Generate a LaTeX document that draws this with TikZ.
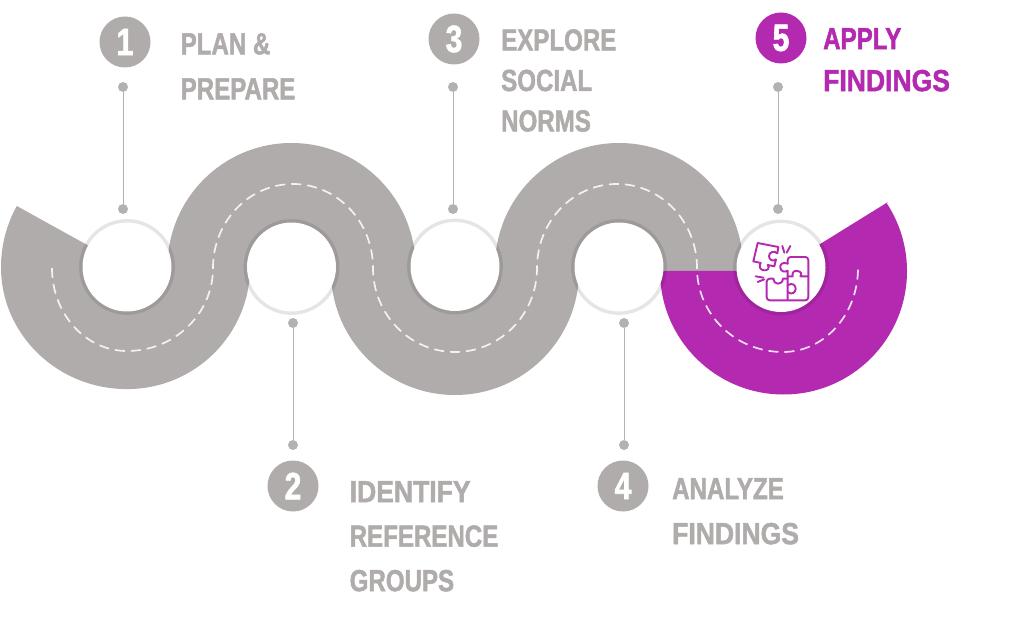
\documentclass[tikz,border=0pt]{standalone}
\usepackage{fontspec}
\setmainfont{Liberation Sans}[BoldFeatures={FakeStretch=0.79,FakeBold=1.6}]
\newfontfamily\widelabel{Liberation Sans Bold}[FakeStretch=0.87,FakeBold=1.6]
\usetikzlibrary{positioning}
\definecolor{roadgrey}{RGB}{175,172,171}
\definecolor{stemgrey}{RGB}{178,178,178}
\definecolor{findpurple}{RGB}{179,41,176}

\begin{document}
\begin{tikzpicture}[x=1pt,y=1pt]
  \tikzstyle{hub}=[circle,fill=white,inner sep=0pt,minimum size=89pt]
  \tikzstyle{hubring}=[draw=black,draw opacity=0.1,line width=3.4pt]
  \tikzstyle{stemdot}=[circle,fill=stemgrey,inner sep=0pt,minimum size=10pt]
  \tikzstyle{stem}=[stemgrey,line width=1pt]
  \tikzstyle{badge}=[circle,fill=roadgrey,inner sep=0pt,minimum size=51pt,text=white,font=\fontsize{38}{38}\selectfont\bfseries]
  \tikzstyle{steplabel}=[anchor=north west,inner sep=0pt,align=left,text=roadgrey]
  \tikzstyle{centreline}=[white,opacity=0.85,line width=1.7pt,dash pattern=on 10pt off 6pt]
  \tikzstyle{iconline}=[findpurple,line width=1.9pt,line join=round,line cap=round]
  \useasboundingbox (0,0) rectangle (1024,627);

  % -- Road (grey) --
  \fill[roadgrey] (127,360) -- (16.8,421) arc[start angle=151,end angle=180,radius=126]
    arc[start angle=180,end angle=270,x radius=126,y radius=122]
    arc[start angle=270,end angle=360,x radius=123,y radius=122] -- cycle;
  \fill[roadgrey] (167.5,360) arc[start angle=180,end angle=0,radius=124] -- (415.5,356) -- (167.5,356) -- cycle;
  \fill[roadgrey] (331,356) arc[start angle=180,end angle=360,radius=124] -- cycle;
  \fill[roadgrey] (495,356) -- (495,360) arc[start angle=180,end angle=0,radius=124] -- (743,356) -- cycle;

  % -- Road (last stretch) --
  \fill[findpurple] (660,356) arc[start angle=180,end angle=393.3,radius=123.5] -- (888,425) -- (783,360) -- (745,356) -- cycle;

  % -- Hubs --
  \node[hub] (hub1) at (127,360) {};
  \node[hub] (hub2) at (291.5,360) {};
  \node[hub] (hub3) at (455,360.5) {};
  \node[hub] (hub4) at (619,360) {};
  \node[hub] (hub5) at (781,359.5) {};
  \draw[hubring] (hub1) circle[radius=46.2pt];
  \draw[hubring] (hub2) circle[radius=46.2pt];
  \draw[hubring] (hub3) circle[radius=46.2pt];
  \draw[hubring] (hub4) circle[radius=46.2pt];
  \draw[hubring] (hub5) circle[radius=46.2pt];

  % -- Centre line --
  \draw[centreline] (52,359) arc[start angle=180,end angle=270,x radius=75,y radius=83]
    arc[start angle=270,end angle=360,x radius=86,y radius=83]
    arc[start angle=180,end angle=0,x radius=80,y radius=84]
    arc[start angle=180,end angle=360,x radius=82,y radius=84]
    arc[start angle=180,end angle=0,x radius=80,y radius=84]
    arc[start angle=180,end angle=270,x radius=86,y radius=84]
    arc[start angle=270,end angle=360,x radius=75,y radius=84];

  % -- Steps above the road --
  \node[badge] (badge1) at (125,585) {1};
  \node[steplabel,font=\fontsize{30.5}{45}\selectfont\bfseries] (label1) at (180.5,594) {PLAN \&\\ PREPARE};
  \node[stemdot] (top1) at (123,540) {};
  \node[stemdot] (low1) at (123,418) {};
  \draw[stem] (top1) -- (low1);

  \node[badge] (badge3) at (454,588) {3};
  \node[steplabel,font=\fontsize{30.5}{40.5}\selectfont\bfseries] (label3) at (501,598) {EXPLORE\\ SOCIAL\\ NORMS};
  \node[stemdot] (top3) at (453,540) {};
  \node[stemdot] (low3) at (453,418) {};
  \draw[stem] (top3) -- (low3);

  \node[badge,fill=findpurple] (badge5) at (781,589) {5};
  \node[steplabel,text=findpurple,font=\fontsize{30.5}{42}\selectfont\bfseries] (label5) at (823,599) {APPLY\\ {\widelabel FINDINGS}};
  \node[stemdot] (top5) at (778,540) {};
  \node[stemdot] (low5) at (778,418) {};
  \draw[stem] (top5) -- (low5);

  % -- Steps below the road --
  \node[stemdot] (top2) at (293,304) {};
  \node[stemdot] (low2) at (293,182) {};
  \draw[stem] (top2) -- (low2);
  \node[badge] (badge2) at (293,141) {2};
  \node[steplabel,font=\fontsize{30.5}{44.5}\selectfont\bfseries] (label2) at (349.5,146) {{\widelabel IDENTIFY}\\ REFERENCE\\ GROUPS};

  \node[stemdot] (top4) at (624,304) {};
  \node[stemdot] (low4) at (624,182) {};
  \draw[stem] (top4) -- (low4);
  \node[badge] (badge4) at (623,141) {4};
  \node[steplabel,font=\fontsize{30.5}{45}\selectfont\bfseries] (label4) at (672,149) {ANALYZE\\ {\widelabel FINDINGS}};

  % -- Puzzle icon --
  \begin{scope}[shift={(745,395)},x=0.3333pt,y=-0.3333pt]
    \draw[iconline] (38,33) -- (100,45) -- (97,64) .. controls (88,55) and (72,60) .. (72,72)
      .. controls (72,84) and (84,90) .. (93,82) -- (88,103) -- (68,99)
      .. controls (76,110) and (66,116) .. (57,115) .. controls (46,114) and (40,104) .. (47,93) -- (25,88) -- cycle;
    \draw[iconline,rounded corners=3pt] (128,95) -- (128,75) -- (190,75) -- (190,205) -- (65,205) -- (65,140) -- (85,140);
    \draw[iconline] (128,95) .. controls (112,88) and (104,98) .. (106,108) .. controls (108,118) and (118,122) .. (128,116) -- (128,205);
    \draw[iconline] (85,140) .. controls (84,158) and (112,162) .. (114,140) -- (128,140);
    \draw[iconline] (128,160) .. controls (142,150) and (152,160) .. (152,170) .. controls (152,182) and (140,190) .. (128,180);
    \draw[iconline] (128,133) -- (143,133) .. controls (140,118) and (150,115) .. (158,117) .. controls (168,119) and (172,126) .. (166,133) -- (190,133);
    \draw[iconline] (112,42) -- (118,62);
    \draw[iconline] (136,42) -- (125,62);
    \draw[iconline] (32,133) -- (55,137);
    \draw[iconline] (38,150) -- (58,142);
  \end{scope}
\end{tikzpicture}
\end{document}
